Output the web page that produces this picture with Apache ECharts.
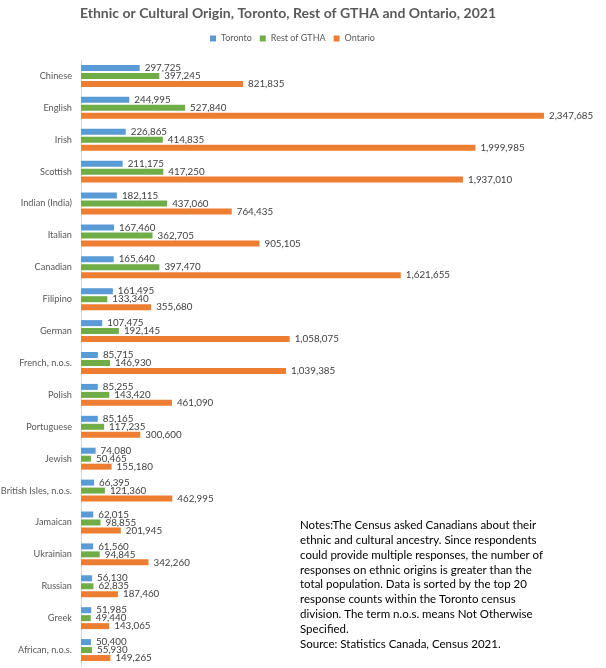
<!DOCTYPE html>
<html><head><meta charset="utf-8">
<script src="https://cdn.jsdelivr.net/npm/echarts@6/dist/echarts.min.js"></script>
<style>html,body{margin:0;padding:0;background:#fff}#c{width:606px;height:668px}</style>
</head><body><div id="c"></div>
<script>
const categories = ["Chinese","English","Irish","Scottish","Indian (India)","Italian","Canadian","Filipino","German","French, n.o.s.","Polish","Portuguese","Jewish","British Isles, n.o.s.","Jamaican","Ukrainian","Russian","Greek","African, n.o.s."];
const toronto = [297725,244995,226865,211175,182115,167460,165640,161495,107475,85715,85255,85165,74080,66395,62015,61560,56130,51985,50400];
const restGTHA = [397245,527840,414835,417250,437060,362705,397470,133340,192145,146930,143420,117235,50465,121360,98855,94845,62835,49440,55930];
const ontario = [821835,2347685,1999985,1937010,764435,905105,1621655,355680,1058075,1039385,461090,300600,155180,462995,201945,342260,187460,143065,149265];
const seriesNames = ["Toronto","Rest of GTHA","Ontario"];
const notes = "Notes:The Census asked Canadians about their\nethnic and cultural ancestry. Since respondents\ncould provide multiple responses, the number of\nresponses on ethnic origins is greater than the\ntotal population. Data is sorted by the top 20\nresponse counts within the Toronto census\ndivision. The term n.o.s. means Not Otherwise\nSpecified.\nSource: Statistics Canada, Census 2021.";

const colors = ["#5B9BD5","#70AD47","#ED7D31"];
const FONT = "Lato";
const chart = echarts.init(document.getElementById('c'));
const fmt = v => v.value.toLocaleString('en-US');
function mk(name, data, i){
  return {name, type:'bar', data, barWidth:6, barGap:'33%',
    itemStyle:{color:colors[i]},
    label:{show:true, position:'right', distance:5, formatter:fmt, color:'#404040', fontSize:9.8, fontFamily:FONT}};
}
chart.setOption({
  animation:false,
  textStyle:{fontFamily:FONT},
  title:{text:"Ethnic or Cultural Origin, Toronto, Rest of GTHA and Ontario, 2021", left:80, top:6, padding:0,
    textStyle:{fontSize:14, fontWeight:'bold', color:'#595959', fontFamily:FONT}},
  legend:{top:34, left:210, padding:0, itemWidth:6, itemHeight:6, itemGap:8, icon:'rect',
    textStyle:{fontSize:9, color:'#595959', fontFamily:FONT}, data:seriesNames},
  grid:{left:81, right:32, top:60, bottom:2, containLabel:false, outerBoundsMode:'none'},
  xAxis:{type:'value', min:0, max:2500000, show:false},
  yAxis:{type:'category', data:categories, inverse:true,
    axisLine:{show:true, lineStyle:{color:'#d9d9d9'}}, axisTick:{show:false},
    axisLabel:{color:'#595959', fontSize:9.2, margin:9, fontFamily:FONT}},
  series:[mk(seriesNames[0],toronto,0), mk(seriesNames[1],restGTHA,1), mk(seriesNames[2],ontario,2)],
  graphic:[{type:'text', left:300, top:518, style:{text:notes, fontSize:11.5, lineHeight:14.8, fill:'#000', fontFamily:FONT}}]
});
</script></body></html>
